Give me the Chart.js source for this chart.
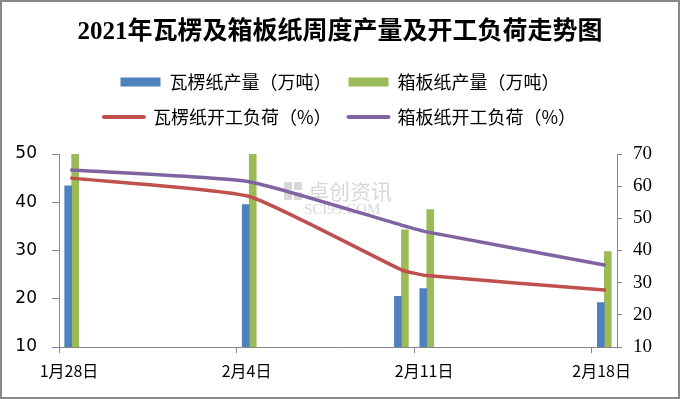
<!DOCTYPE html>
<html>
<head>
<meta charset="utf-8">
<script src="https://cdn.jsdelivr.net/npm/chart.js@4.4.1/dist/chart.umd.min.js"></script>
<style>
  html, body { margin: 0; padding: 0; background: #fff; }
  #wrap { width: 680px; height: 399px; box-sizing: border-box; border: 2px solid #888; }
  canvas { display: block; }
</style>
</head>
<body>
<div id="wrap"><canvas id="paperChart" width="676" height="395"></canvas></div>
<script>
// weekly dates (Excel-style date axis)
const dates = ['2021-01-28', '2021-02-04', '2021-02-10', '2021-02-11', '2021-02-18'];
const tickDates = ['2021-01-28', '2021-02-04', '2021-02-11', '2021-02-18'];
const tickLabels = ['1月28日', '2月4日', '2月11日', '2月18日'];

// output, 10k tonnes (left axis)
const corrugatedOutput = [43.4, 39.5, 20.5, 22.1, 19.2];
const containerboardOutput = [50, 50, 34.3, 38.5, 29.8];

// operating rate, % (right axis)
const corrugatedRate = [62.5, 56.8, 34.0, 32.2, 27.7];
const containerboardRate = [65.0, 61.4, 47.9, 45.8, 35.5];

const startDate = new Date('2021-01-28T00:00:00Z');
const dayOf = d => (new Date(d + 'T00:00:00Z') - startDate) / 86400000;
// marks sit in the middle of their day slot
const pts = vals => vals.map((v, i) => ({ x: dayOf(dates[i]) + 0.5, y: v }));
const tickDays = tickDates.map(dayOf);

const watermark = {
    id: 'watermark',
    beforeDatasetsDraw(chart) {
        const ctx = chart.ctx;
        ctx.save();
        ctx.fillStyle = 'rgba(200,200,200,0.7)';
        ctx.fillRect(282, 180, 8, 8);
        ctx.fillRect(292, 180, 8, 8);
        ctx.fillRect(282, 190, 8, 8);
        ctx.fillRect(292, 190, 8, 8);
        ctx.font = '21px "Noto Sans CJK SC"';
        ctx.textBaseline = 'middle';
        ctx.fillText('卓创资讯', 306, 189);
        ctx.font = '15px "Liberation Serif"';
        ctx.fillText('SCI99.COM', 302, 208);
        ctx.restore();
    }
};

const legendGap = {
    id: 'legendGap',
    beforeLayout(chart) {
        const lg = chart.legend;
        if (lg && !lg._gapPatched) {
            const fit = lg.fit;
            lg.fit = function () {
                fit.call(this);
                this.height += 18;
            };
            lg._gapPatched = true;
        }
    }
};

const ctx = document.getElementById('paperChart').getContext('2d');
const paperChart = new Chart(ctx, {
    data: {
        datasets: [{
            type: 'bar',
            label: '瓦楞纸产量（万吨）',
            data: pts(corrugatedOutput),
            backgroundColor: '#4F81BD',
            borderWidth: 0,
            barThickness: 7,
            yAxisID: 'y',
            order: 2
        }, {
            type: 'bar',
            label: '箱板纸产量（万吨）',
            data: pts(containerboardOutput),
            backgroundColor: '#9BBB59',
            borderWidth: 0,
            barThickness: 7,
            yAxisID: 'y',
            order: 2
        }, {
            type: 'line',
            label: '瓦楞纸开工负荷（%）',
            data: pts(corrugatedRate),
            borderColor: '#C0504D',
            backgroundColor: '#C0504D',
            borderWidth: 3.5,
            pointRadius: 0,
            tension: 0.15,
            borderCapStyle: 'round',
            yAxisID: 'y2',
            order: 1
        }, {
            type: 'line',
            label: '箱板纸开工负荷（%）',
            data: pts(containerboardRate),
            borderColor: '#8064A2',
            backgroundColor: '#8064A2',
            borderWidth: 3.5,
            pointRadius: 0,
            tension: 0.15,
            borderCapStyle: 'round',
            yAxisID: 'y2',
            order: 1
        }]
    },
    options: {
        responsive: false,
        animation: false,
        layout: { padding: 0 },
        scales: {
            x: {
                type: 'linear',
                min: 0,
                max: 22,
                offset: false,
                afterBuildTicks: s => { s.ticks = tickDays.map(v => ({ value: v })); },
                afterFit: s => { s.height = 50; },
                border: { color: '#878787', width: 1 },
                grid: { offset: false, drawOnChartArea: false, tickLength: 6, color: '#878787' },
                ticks: {
                    callback: (v) => tickLabels[tickDays.indexOf(v)],
                    labelOffset: 10,
                    padding: 8,
                    maxRotation: 0,
                    autoSkip: false,
                    color: '#000',
                    font: { family: '"Noto Sans CJK SC"', size: 16 }
                }
            },
            y: {
                position: 'left',
                min: 10,
                max: 50,
                afterFit: s => { s.width = 57; },
                border: { color: '#8d80b3', width: 1 },
                grid: { drawOnChartArea: false, tickLength: 7, color: '#8d80b3' },
                ticks: {
                    stepSize: 10,
                    padding: 15,
                    color: '#000',
                    font: { family: '"DejaVu Sans"', size: 17 }
                }
            },
            y2: {
                position: 'right',
                min: 10,
                max: 70,
                afterFit: s => { s.width = 61; },
                border: { color: '#878787', width: 1 },
                grid: { drawOnChartArea: false, tickLength: 5, color: '#878787' },
                ticks: {
                    stepSize: 10,
                    padding: 11,
                    color: '#000',
                    font: { family: '"Liberation Serif"', size: 19 }
                }
            }
        },
        plugins: {
            title: {
                display: true,
                text: '2021年瓦楞及箱板纸周度产量及开工负荷走势图',
                color: '#000',
                font: { family: '"Liberation Serif", "Noto Sans CJK SC"', size: 25, weight: 'bold' },
                padding: { top: 16, bottom: 8 }
            },
            legend: {
                labels: {
                    color: '#000',
                    font: { family: '"Noto Sans CJK SC"', size: 18 },
                    usePointStyle: true,
                    pointStyleWidth: 40,
                    boxHeight: 9,
                    padding: 17,
                    sort: (a, b) => a.datasetIndex - b.datasetIndex,
                    generateLabels(chart) {
                        const items = Chart.defaults.plugins.legend.labels.generateLabels(chart);
                        return items.map(it => {
                            const ds = chart.data.datasets[it.datasetIndex];
                            if (ds.type === 'line') {
                                it.pointStyle = 'line';
                                it.lineWidth = 4;
                                it.lineCap = 'round';
                                it.strokeStyle = ds.borderColor;
                            } else {
                                it.pointStyle = 'rect';
                                it.lineWidth = 0;
                            }
                            return it;
                        });
                    }
                }
            },
            tooltip: { enabled: false }
        }
    },
    plugins: [watermark, legendGap]
});
</script>
</body>
</html>
